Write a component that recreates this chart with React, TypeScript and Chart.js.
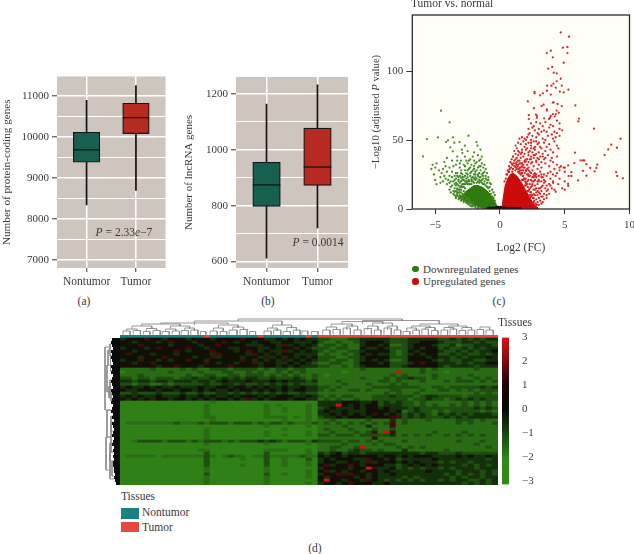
import React, { useEffect, useRef } from "react";
import { Chart, registerables } from "chart.js";

Chart.register(...registerables);

const FONT = '"Liberation Serif", serif';
const INK = "#3a3a3a";

// Panels (a) and (b)
const boxCategories = ["Nontumor", "Tumor"];
const proteinTicks = [7000, 7500, 8000, 8500, 9000, 9500, 10000, 10500, 11000];
const proteinWhiskers = [[8350, 10900], [8700, 11260]];
const proteinBoxes = [[9390, 10120], [10090, 10830]];
const proteinMedians = [9690, 10480];
const lncTicks = [600, 700, 800, 900, 1000, 1100, 1200];
const lncWhiskers = [[612, 1163], [720, 1232]];
const lncBoxes = [[797, 955], [872, 1077]];
const lncMedians = [874, 938];

// Panel (c): Log2(FC), -Log10(adj P)
const upSparse = [
  [4.69,128],[5.33,124.9],[4.85,116.9],[5.21,117.4],[5.21,113],[3.92,114.7],[3.62,113],[4.08,109.9],[4.92,106],[4.03,102.9],[3.72,101.7],[4.15,98.8],[4.38,98.3],[4.69,94.4],[4.38,92.5],[4.13,90.8],[3.64,89.4],[3.97,89.4],[4.77,89.4],[4.31,87.9],[5.28,86.5],[3.62,85.7],[4.62,85],[4.92,84.5],[2.67,84.8],[2.67,83.8],[3.31,83.8],[3.1,82.4],[3.92,82.9],[4.08,77.1],[4.15,77.3],[4.44,76.1],[4.77,74.6],[5.82,75.1],[3.36,75.6],[3.21,74.6],[2.15,78],[2.62,73],[3.62,72.2],[3.62,71.3],[4.38,71.3],[4.54,69.8],[4.08,68.8],[4.31,68.8],[2.23,68.1],[2.77,68.4],[2.85,67.6],[2.85,66.2],[3.92,67.4],[4.23,67.2],[3.85,66],[3.79,65.2],[3.41,65.7],[2.23,65.2],[6.1,65.5],[6.05,63.5],
  [7.26,58.2],[9.31,50.9],[8.59,46.6],[9.03,44.4],[8.36,43.2],[8.08,39.1],[5.79,40.8],[6.23,35.2],[6.41,35.2],[6.51,35.2],[6.67,32.5],[7.51,32.1],[5.74,33.3],[6.97,29.7],[7.44,29.7],[7.31,27.2],[6.41,27.7],[5.51,26.7],[5.51,23.9],[6.67,24.1],[6.03,20.7],[8.97,26.7],[9.05,23.9],[9.49,22.2],[5.26,31.6],[5,14],[5.26,18.3],[5.26,16.8],
  [2.8,63],[3.1,62],[3.5,63],[4.4,64],[4.6,62],[3.9,61],[2.4,62],[2.6,60],[3.3,60],[4.1,60],[2.2,58],[2.5,59],[2.7,57],[3,58],[3.4,57],[3.8,59],[4.2,56],[4.6,58],[4.8,57],[2.3,55],[2.9,55],[3.6,56],[3.2,56],[4.4,55],
  [1.7,52],[1.9,51],[2.2,54],[2.5,53],[2.8,52],[3,54],[3.3,51],[3.7,53],[4,54],[4.3,52],[4.6,53],[4.1,51],[2.4,50],[2,50],[1.5,51],[3.5,50],[1.4,48],[1.6,47],[1.8,49],[2,47],[2.2,48],[2.4,46],[2.6,49],[2.9,47],[3.1,45],[3.4,48],[3.8,47],[4.2,49],[4.4,46],[1.2,46],[1.9,45],[2.7,45],[3.6,45],
  [1.1,42],[1.3,44],[1.5,41],[1.7,43],[1.9,40],[2.1,44],[2.3,42],[2.5,41],[2.7,43],[3,41],[3.2,44],[3.5,42],[3.9,43],[4.1,41],[4.5,44],[2.4,44],[1.6,40],[2.8,40],[3.3,40],[1,38],[1.2,36],[1.4,39],[1.6,37],[1.8,38],[2,36],[2.2,39],[2.4,38],[2.6,37],[2.8,35],[3.1,38],[3.4,36],[3.7,39],[4,37],[4.4,38],[1.5,35],[1.9,35],[2.3,36],[2.7,39],[3.9,35],
  [0.9,33],[1.1,31],[1.3,34],[1.4,32],[1.6,33],[1.7,31],[1.9,34],[2.1,32],[2.2,30],[2.4,33],[2.6,31],[2.8,34],[3,32],[3.2,30],[3.5,33],[3.8,31],[4.1,34],[4.4,32],[4.7,31],[5,30],[4.6,30],[1.5,30],[1.8,30],[2,34.5],[1.3,29],[1.5,27],[1.7,28],[1.9,26],[2.1,29],[2.3,27],[2.5,28],[2.7,26],[2.9,29],[3.1,27],[3.4,25],[3.7,26],[3.9,27],[4.2,29],[4.4,26],[4.6,28],[4.9,30],[5,27],[4.1,25],[3.2,25],[2.2,25],[2,27.5],
  [1.8,24],[2,22],[2.2,24],[2.4,21],[2.6,23],[2.8,25],[3,21],[3.2,23],[3.4,21],[3.6,24],[3.9,22],[4.3,24],[4.6,22],[5,20],[5.3,24],[2.5,20],[3,20],[4.1,20],[2.1,20],[2.1,18],[2.3,15],[2.5,17],[2.7,14],[2.9,18],[3,12],[3.2,16],[3.4,19],[3.6,13],[3.9,17],[4.2,14],[4.5,18],[4.8,15],[2.6,11],[2.9,10],[3.3,9],[3.6,8],[2.8,7],[2.4,9],[3.1,15],[3.8,11],[4.3,12.5],
];
const upDense = [
  [0.5,25],[0.6,28],[0.7,31],[0.8,34],[0.9,36],[1,38],[1.1,35],[1.2,33],[1.3,37],[1.4,35],[1.5,33],[1.6,30],[1.7,33],[1.8,28],[1.9,30],[2,28],[2.1,25],[2.2,28],[2.3,24],[2.4,26],[2.5,23],[2.6,25],[2.7,21],[2.8,23],[2.9,20],[1.9,22],[2,19],[2.2,21],[2.3,18],[2.4,16],[2.5,18],[2.6,14],[2.7,17],[2.8,15],[2.9,13],[3,15],[3.1,11],[3.2,13],[3.3,17],[3.4,11],[3.5,15],[2.6,8],[2.7,10],[2.8,12],[2.9,5],[3,8],[3.1,6],[3.2,9],[3.4,7],[3.6,10],[3.7,14],[3.8,18],[4,15],[4.1,19],[2.5,10],[2.4,12],[2.3,10],[2.6,20],[2.7,24],[3,24],[3.2,20],[3.3,23],[3.5,20],[3.6,17],[1.7,26],[1.8,32],[2.1,36],[2.2,34],[2.4,36],[2.5,34],[2.6,39],[2.9,37],[3,36],[3.2,34],[3.3,38],[3.5,37],[1.2,40],[1.4,42],[1.7,41],[2,43],[2.2,41],[2.6,44],[3,48],[2.8,49],[2.4,48],[2.1,52],
  [0.35,20],[0.45,22],[0.55,25],[0.65,27],[0.75,29],[0.85,30],[0.95,32],[1.05,33],[1.15,31],[1.25,30],[1.35,31],[1.45,29],[1.55,28],[1.65,26],[1.75,24],[1.85,22],[1.95,20],[2.05,18],[2.15,16],[2.25,14],[2.35,12],[2.45,10],[2.55,8],[2.65,6],[2.75,4],[2.85,3],[1,29],[1.2,28],[1.4,27],[1.6,25],[1.8,21],[2,17],[2.2,13],[2.4,9],[2.6,5],[1.7,21],[1.9,17],[2.1,13],[2.3,8],[2.5,4],[2.7,2],[3,3],[3.2,4],[3.3,5],[1.5,26],[1.3,32],[0.95,27],[0.7,27],
];
const downSparse = [
  [-4.56,71.2],[-3.89,62.8],[-5.64,50.7],[-4.79,51.9],[-5.94,38.1],[-3.63,51.9],[-2.43,53.1],[-4.17,48.5],[-4.02,49.7],[-3.53,48],[-3.12,48.5],[-2.71,45.9],[-1.82,48.5],[-1.74,45.9],[-3.84,44.7],[-1.51,43],[-2.94,43],[-3.64,41.8],
  [-2.9,40.5],[-2.5,42],[-2,41],[-2.7,38],[-3.3,38],[-2.1,38],[-1.7,39],[-1.4,38],[-1.5,36],[-4.1,37],[-4.3,34],[-3.7,35],[-3.3,35],[-3,35],[-2.6,35],[-2.3,36],[-2,35],[-1.8,34],[-1.4,33],[-1.2,32],
  [-5.2,32],[-5,30],[-5.3,29],[-4.9,33],[-4.7,28],[-4.4,29],[-4.2,31],[-3.9,30],[-3.6,31],[-3.4,32],[-3.1,30],[-2.8,32],[-2.5,33],[-2.2,32],[-2,31],[-1.6,31],[-1.3,30],[-1.1,29],[-4.5,26],[-4.1,27],[-3.7,27],[-3.3,26],[-3,28],[-2.7,28],[-2.4,29],[-2.1,28],[-1.8,28],[-1.5,28],[-1.2,27],[-1,26],[-5.1,25],[-4.6,23],[-4.2,22],[-3.9,24],[-3.5,24],[-3.2,23],[-2.9,25],[-2.6,26],[-2.3,26],[-2,25],[-1.7,25],[-1.4,25],[-1.1,24],[-0.9,23],
  [-5,21],[-4.6,19],[-4.9,18],[-4.1,18],[-3.8,20],[-3.5,21],[-3.2,20],[-2.9,21],[-3.8,16],[-3.4,17],[-3.1,16],[-3.6,13],[-3.3,14],[-3,12],[-3.1,19],[-2.8,10],[-2.6,7],[-2.4,5],[-2.2,4],[-3.3,11],[-2.9,8],[-2.8,23],[-2.5,23],[-2.2,22.5],[-1.9,23],[-1.6,23],[-1.3,22],[-1,21],[-0.8,19],[-3.4,22],[-3,22.5],[-2.7,20],[-3.3,15],[-3,17],[-3.5,18],
];
const downDense = [
  [-3.6,20],[-3.4,19],[-3.3,24],[-3.2,21],[-3.1,24],[-3,20],[-2.9,23],[-2.8,21],[-2.7,24],[-2.6,22],[-2.5,25],[-2.4,21],[-2.3,24],[-2.2,21],[-2.1,23],[-2,22],[-1.9,25],[-1.8,22],[-1.7,24],[-1.6,21],[-1.5,23],[-1.4,21],[-1.3,24],[-1.2,20],[-1.1,22],[-1,19],[-0.9,21],[-0.8,16],[-0.7,18],[-0.6,14],[-0.5,12],[-0.4,10],
  [-3.7,17],[-3.5,15],[-3.4,13],[-3.3,18],[-3.2,17],[-3.2,14],[-3.1,12],[-3.1,10],[-3,14],[-3,9],[-2.9,16],[-2.9,11],[-2.8,18],[-2.8,13],[-2.7,15],[-2.7,9],[-2.6,19],[-2.6,12],[-2.5,20],[-2.5,8],[-2.4,18],[-2.4,7],[-2.3,6],[-2.2,20],[-2.1,4],[-3.5,10],[-3.4,8],[-3.2,7],[-3,6],[-2.8,5],[-2.5,4],[-2.2,2],[-1.9,2],[-1.7,1],[-1.5,1],[-3.9,14],[-3.8,12],[-4,21],[-3.9,19],[-4.3,24],[-4.4,20],[-3.7,23],[-3.4,26],[-3,26],[-2.5,28],[-2.2,27],[-1.9,27],[-1.6,26],[-1.3,26],[-2.7,31],[-2.3,30],[-2,29],[-1.7,30],[-1.5,31],[-3.1,33],[-2.4,35],[-1.9,33],[-1.6,35],
  [-3.3,10],[-3.2,12],[-3.1,14],[-3,16],[-2.9,18],[-2.8,16],[-2.7,18],[-2.6,20],[-2.5,18],[-2.4,20],[-2.3,18],[-2.2,18],[-2.1,20],[-2,19],[-1.9,21],[-1.8,19],[-1.7,20],[-1.6,19],[-1.5,20],[-1.4,19],[-1.3,18],[-1.2,18],[-1.1,17],[-1,16],[-0.9,15],[-0.8,13],[-0.7,11],[-0.6,9],[-0.5,8],[-0.4,6],[-3.4,9],[-3.2,9],[-3,7.5],[-2.8,6],[-2.6,4.5],[-2.4,3.5],[-2.3,2.5],[-2.1,2],[-1.9,1],[-1.7,0.6],[-2,3],[-2.7,6],[-2.9,7],[-3.1,8],[-1.3,0.5],[-3.6,11],[-3.5,12.5],[-3.3,12],
];
const upCoreX = [0.15,0.25,0.4,0.6,0.8,1,1.3,1.6,1.9,2.2,2.5,2.8,3];
const upCoreTop = [0,8,17,22,25,26,24,20,15,10,5,2,0];
const downCoreX = [-3.2,-2.9,-2.6,-2.3,-2,-1.7,-1.4,-1.1,-0.8,-0.5,-0.3,-0.1];
const downCoreTop = [8,10,13,15,17,17,16,14,11,7,3.5,0];
const downCoreBase = [8,7,5.5,4,3,2,0.8,0,0,0,0,0];
const notSignificant = [
  [-0.95,0.4],[-0.8,0.8],[-0.7,0.3],[-0.6,0.6],[-0.5,0.9],[-0.42,0.3],[-0.35,0.7],[-0.28,1],[-0.2,0.4],[-0.12,0.8],[-0.05,0.5],[0.02,1],[0.08,0.3],[0.14,0.8],[0.2,0.4],[0.28,0.9],[0.35,0.4],[0.42,0.7],[0.5,0.3],[0.58,0.6],[0.68,0.4],[0.78,0.7],[0.9,0.3],[1.05,0.5],[1.2,0.3],[1.35,0.5],[1.55,0.3],[-0.15,1.4],[0.05,1.5],
];

// Panel (d): levels 0..6 stand for values -3..3; 33 nontumor + 30 tumor columns
const heatRows = [
  "34445443444 34443444454 44334343433 2211122333 3322233333 2232323233",
  "44344434544 43444454344 34433443334 2112112344 4322233444 3222332322",
  "44454444344 44344544443 33443534343 1221211344 3411234443 2231223332",
  "34443454444 54434443344 43343443432 2212211433 4322234344 2322323233",
  "44344444454 34445444345 43433534343 2121122344 4421243444 3223232334",
  "45444344434 44443544443 54343443333 1211212434 3321234344 2232322323",
  "44434445444 43445344434 43534343434 2221122344 4422244434 3323233343",
  "34454434344 54434444454 34343534343 2212212343 4311244443 2322332233",
  "44344544444 44454344344 53443343432 1122112444 3422234544 3332323344",
  "44444434454 44344445444 43443434333 2211212344 4422344444 3233332333",
  "11111211112 12112221222 21212212211 1111111211 1111111212 1111112111",
  "01111111211 11211122112 12112121211 1111011111 1116111211 1011111111",
  "11121111111 21122112212 22121212112 1011111111 1121211112 1111121111",
  "22122122212 23223232323 32232223212 1111111211 1212232212 1112112121",
  "33233233233 32332343334 33343433323 1112111111 2212111211 1212221212",
  "22122112122 22232233232 23232323222 1111211121 1121211111 1111111111",
  "34334343343 33433443443 43433433433 2212111112 2222222112 2122222323",
  "43344434434 43434334344 34343434433 2121122121 1122111211 2212121222",
  "22322232223 22322332323 23232322322 1111111111 1212112111 1111112121",
  "34343343334 33434334344 43434443343 2121221112 2232221233 2222122222",
  "43434344344 34343443435 34344434433 1212112112 2222212232 2123232322",
  "00000000000 00001000000 00000000000 3333444334 2323221211 1111212121",
  "00000000000 00010000000 00101000010 3336434344 2333221212 1121212121",
  "00000000000 00010000000 00100100010 2343334344 3433323222 2222223232",
  "00000000000 00010000000 00100100010 3433433344 4434123221 2122222121",
  "00000000000 00010000000 00100000010 3343434345 4343232321 3232323332",
  "00000000000 00011000000 00111101010 2334344434 4455232322 2323233333",
  "00000000000 00001000000 00000100010 1121111121 1131211121 1112221211",
  "01111111121 11212221222 12122121112 1212121212 1251211111 1112121112",
  "00000000000 00000000000 00100000010 1111211131 1151111111 1111111111",
  "00000000000 00010000000 00000100000 1211121112 1121111111 1111111111",
  "00000000000 00010000000 00100000010 1121112125 1651111112 1111211111",
  "00000000000 00010000000 00100100010 2212221222 2231212121 1212121211",
  "00000000000 00010000000 00000000000 1111111115 1111111111 1111111111",
  "00122221222 12122212122 23232122213 2222122121 2111211111 1112111211",
  "00000000000 00010000000 00100000010 1111211112 1221111111 1111112111",
  "00000000000 00000000000 00000000000 1122112611 1112121211 1111111121",
  "00000000000 00110000000 00111100010 1121123221 2111311111 1211111111",
  "00000000000 00020000000 00200000010 3234233233 3333333233 2223222222",
  "01111101111 11121012110 11211111211 4344344444 3443434443 3334343343",
  "00000000000 00020000010 00200100020 3434443354 4342333334 3333333323",
  "00000000000 00020000000 00200100010 3443344353 4443434333 2323323333",
  "00000000000 00020000010 00200100010 4534454344 4332343434 3333232323",
  "00000000000 00010000000 00100000000 3444434465 3342323233 2323332333",
  "00000000000 00010000000 00100000010 4534344344 3433333343 3332333232",
  "00000000000 00020000000 00200100010 3445554434 3343333333 3232323232",
  "00000000000 00010000000 00100000010 4344443434 3333232333 3323233233",
  "00000000000 00010000000 00100000000 4644344354 3232323233 2323322323",
  "00000000000 00010000000 00100000010 3443454443 3433333333 3333232323",
];
const heatPalette = ["#2f8016", "#2a6c13", "#1f4f10", "#14300b", "#120f07", "#3e0f0a", "#d01212"];
const sampleGroups = "NNNNNNNNNNNNNNTNNNNNNNNTNNNNNNNTN" + "T".repeat(30);
// Dendrogram merges: [from, to, leg start, joint height]
const topMerges = [
  [0.5,1.7,0.3,4],[2.2,3.4,0.3,4.5],[3.9,5,0.3,3.5],[5.5,6.7,0.3,4.5],[7,8.2,0.3,3.5],[8.7,9.9,0.3,4],[10.2,11.4,0.3,4.5],[11.8,13,0.3,5],[13.4,14.3,0.3,3.5],
  [15,16.2,0.3,4],[16.7,17.8,0.3,3.5],[18.2,19.5,0.3,5],[20,21.2,0.3,5.5],[21.6,22.6,0.3,3.5],[24,25.2,0.3,4],[25.6,26.8,0.3,5],[27.2,28.4,0.3,3.5],[28.9,30,0.3,5],[30.3,31.3,0.3,4],[31.9,33,0.3,3.5],
  [33.8,35,0.3,5],[35.5,36.7,0.3,5.5],[37.2,38.4,0.3,7],[39,40.2,0.3,5],[40.7,41.9,0.3,6.5],[42.4,43.5,0.3,5],[44,45.2,0.3,7],[45.7,46.8,0.3,5],[47.2,48.3,0.3,3.5],[48.8,49.9,0.3,5],[50.3,51.4,0.3,6],[51.9,53,0.3,4.5],[53.5,54.6,0.3,5],[55,56.1,0.3,6],[56.5,57.6,0.3,4.5],[58,59.1,0.3,5],[59.5,60.6,0.3,5.5],[61,62.2,0.3,5],
  [1.1,2.8,4,6],[4.4,6.1,4,6.5],[7.6,9.3,4,6],[10.8,12.4,4.5,7],[15.6,17.2,4,7],[18.8,20.6,5,8],[24.6,26.2,4,7],[27.8,29.4,4,7.5],
  [34.4,36.1,5,8],[37.8,39.6,5,9],[41.3,43,5,9],[44.6,46.2,5,9],[47.8,49.4,4,7],[50.9,52.5,5,7.5],[54,55.6,5,7.5],[57,58.6,5,7.5],[60,61.6,5,8],
  [2,5.3,6,9],[8.4,11.6,6.5,9],[16.4,19.7,7,10],[25.4,28.6,7,10],[35.2,38.7,8,11],[42.1,45.4,9,12],[48.6,51.7,7,9],[54.8,57.8,7.5,9],
  [3.6,10,9,11],[37,43.8,11,13.5],[50,56.3,9,11],[40.4,53.2,11,14.5],[6.8,18,11,12],[12.4,27,10,14],[19.7,47,14,16],
];
const leftMerges = [
  [3,24,9,15],[2,6,7,10],[6,11,7,9.5],[4,9,10,12],[14,19,7,10],[18,21,7,9],[16,20,9,11],[9,18,11,13],
  [28,38,7,9],[38,47,6,10],[33,44,10,14],[24,33,9,13],[26,31,7,9],[41,46,6,8],[35,41,7,10],
];
const leafDepths = [
  8,9,8,7,9,8,9,8,7,9,8,9,7,8,9,8,7,9,8,7,8,9,7,8,9,7,8,6,8,7,6,7,8,6,7,8,6,7,6,7,6,7,7,6,6,5,6,5,4,
];
const colorbarRange = [-3.12, 3];

function label(v) {
  return v < 0 ? "\u2212" + Math.abs(v) : String(v);
}

const plotFrame = {
  id: "plotFrame",
  beforeDraw(chart, _a, o) {
    const { ctx, chartArea: a } = chart;
    ctx.save();
    ctx.fillStyle = o.fill;
    ctx.fillRect(a.left, a.top, a.right - a.left, a.bottom - a.top);
    ctx.restore();
  },
  afterDraw(chart, _a, o) {
    if (!o.stroke) return;
    const { ctx, chartArea: a } = chart;
    ctx.save();
    ctx.strokeStyle = o.stroke;
    ctx.lineWidth = 1.3;
    ctx.strokeRect(a.left, a.top, a.right - a.left, a.bottom - a.top);
    ctx.restore();
  },
};

function boxConfig(title, tickValues, whiskers, boxes, medians, yMin, yMax, major, axisW, boxW, titleSize) {
  const isMajor = (v) => Math.round(v) % major === 0;
  const xy = (arr) => arr.map((y, i) => ({ x: i + 1, y }));
  return {
    type: "bar",
    data: {
      datasets: [
        { type: "scatter", data: xy(medians), pointStyle: "line", pointRadius: boxW / 2, pointBorderWidth: 1.2, pointBorderColor: "#0c0c0c", pointBackgroundColor: "#0c0c0c", order: 0 },
        { data: xy(boxes), backgroundColor: ["#17604f", "#b62a22"], borderColor: "#141414", borderWidth: 1.2, borderSkipped: false, barThickness: boxW, grouped: false, order: 1 },
        { data: xy(whiskers), backgroundColor: "#151515", barThickness: 1.1, grouped: false, order: 2 },
      ],
    },
    options: {
      animation: false, responsive: false, maintainAspectRatio: false,
      layout: { padding: { top: 10, right: 8, left: 0, bottom: 0 } },
      plugins: { legend: { display: false }, tooltip: { enabled: false }, plotFrame: { fill: "#cfc5bf" } },
      scales: {
        x: {
          type: "linear", min: 0.4, max: 2.6, offset: false,
          afterFit: (s) => { s.height = 27; },
          grid: { offset: false, color: "#ffffff", lineWidth: 1.5, tickColor: "#333", tickLength: 4, tickWidth: 1 },
          border: { display: false },
          ticks: { stepSize: 1, includeBounds: false, autoSkip: false, maxRotation: 0, padding: 3, color: INK, font: { family: FONT, size: 11.5 }, callback: (v) => boxCategories[v - 1] ?? "" },
        },
        y: {
          type: "linear", min: yMin, max: yMax,
          afterBuildTicks: (s) => { s.ticks = tickValues.map((value) => ({ value })); },
          afterFit: (s) => { s.width = axisW; },
          title: { display: true, text: title, color: INK, font: { family: FONT, size: titleSize }, padding: 0 },
          grid: {
            color: "#ffffff",
            lineWidth: (c) => (isMajor(c.tick.value) ? 1.6 : 1),
            tickColor: (c) => (isMajor(c.tick.value) ? "#333" : "transparent"),
            tickLength: 5, tickWidth: 1,
          },
          border: { display: false },
          ticks: { autoSkip: false, padding: 3, color: INK, font: { family: FONT, size: 11 }, callback: (v) => (isMajor(v) ? String(v) : "") },
        },
      },
    },
    plugins: [plotFrame],
  };
}

const toXY = (pairs) => pairs.map(([x, y]) => ({ x, y }));
const zipXY = (xs, ys) => xs.map((x, i) => ({ x, y: ys[i] }));

function volcanoConfig() {
  const pt = { pointStyle: "circle", pointRadius: 1.15, pointBorderWidth: 0, showLine: false };
  return {
    type: "scatter",
    data: {
      datasets: [
        { type: "line", data: zipXY(upCoreX, upCoreTop), borderColor: "#cb0b0b", borderWidth: 1, backgroundColor: "#cb0b0b", pointRadius: 0, tension: 0, fill: { value: 0 }, order: 5 },
        { type: "line", data: zipXY(downCoreX, downCoreTop), borderColor: "#2f7a0c", borderWidth: 1, backgroundColor: "#2f7a0c", pointRadius: 0, tension: 0, fill: "+1", order: 5 },
        { type: "line", data: zipXY(downCoreX, downCoreBase), borderColor: "#2f7a0c", borderWidth: 1, pointRadius: 0, tension: 0, fill: false, order: 5 },
        { data: toXY(upDense), backgroundColor: "#d42024", ...pt, order: 4 },
        { data: toXY(downDense), backgroundColor: "#3a8420", ...pt, order: 4 },
        { data: toXY(upSparse), backgroundColor: "#dc2a2e", ...pt, order: 3 },
        { data: toXY(downSparse), backgroundColor: "#4a9030", ...pt, order: 3 },
        { data: toXY(notSignificant), backgroundColor: "#000", ...pt, pointRadius: 1.3, order: 1 },
      ],
    },
    options: {
      animation: false, responsive: false, maintainAspectRatio: false,
      layout: { padding: { top: 10, right: 10, left: 0, bottom: 0 } },
      plugins: { legend: { display: false }, tooltip: { enabled: false }, plotFrame: { fill: "#fffef7", stroke: "#2a2a2a" } },
      scales: {
        x: {
          type: "linear", min: -6.77, max: 10,
          afterFit: (s) => { s.height = 46; },
          title: { display: true, text: "Log2 (FC)", color: INK, font: { family: FONT, size: 11.5 }, padding: 0 },
          grid: { drawOnChartArea: false, tickColor: "#333", tickLength: 5 },
          border: { display: false },
          ticks: { stepSize: 5, includeBounds: false, autoSkip: false, maxRotation: 0, padding: 5, color: INK, font: { family: FONT, size: 11 }, callback: label },
        },
        y: {
          type: "linear", min: 0, max: 140.6,
          afterFit: (s) => { s.width = 42.3; },
          grid: { drawOnChartArea: false, tickColor: "#333", tickLength: 6 },
          border: { display: false },
          ticks: { stepSize: 50, includeBounds: false, autoSkip: false, padding: 3, color: INK, font: { family: FONT, size: 11 }, callback: label },
        },
      },
    },
    plugins: [plotFrame],
  };
}

function heatConfig() {
  const matrix = heatRows.map((r) => r.replace(/ /g, "").split("").map((c) => Number(c) - 3));
  const cols = matrix[0].map((_, i) => i);
  const bar = { stack: "cells", borderWidth: 0, barPercentage: 1, categoryPercentage: 1 };
  const datasets = [...matrix].reverse().map((row) => ({
    ...bar,
    data: row.map(() => 1),
    backgroundColor: row.map((v) => heatPalette[v + 3]),
  }));
  datasets.push({
    ...bar,
    data: cols.map(() => 1),
    backgroundColor: cols.map((i) => (sampleGroups[i] === "T" ? "#e8463f" : "#1c8080")),
  });
  return {
    type: "bar",
    data: { labels: cols.map(String), datasets },
    options: {
      animation: false, responsive: false, maintainAspectRatio: false,
      layout: { padding: 0 },
      plugins: { legend: { display: false }, tooltip: { enabled: false } },
      scales: {
        x: { stacked: true, display: false },
        y: { stacked: true, display: false, min: 0, max: matrix.length + 1 },
      },
    },
  };
}

function topDendroConfig() {
  const pts = [];
  topMerges.forEach(([a, b, low, top]) => {
    pts.push({ x: a, y: low }, { x: a, y: top }, { x: b, y: top }, { x: b, y: low }, { x: NaN, y: NaN });
  });
  return {
    type: "scatter",
    data: { datasets: [{ data: pts, showLine: true, spanGaps: false, borderColor: "#8b8b8b", borderWidth: 0.9, pointRadius: 0 }] },
    options: {
      animation: false, responsive: false, maintainAspectRatio: false, layout: { padding: 0 },
      plugins: { legend: { display: false }, tooltip: { enabled: false } },
      scales: { x: { type: "linear", display: false, min: 0, max: 63 }, y: { type: "linear", display: false, min: 0, max: 17 } },
    },
  };
}

function leftDendroConfig() {
  const leaves = [];
  leafDepths.forEach((d, r) => {
    leaves.push({ x: 0, y: r + 0.5 }, { x: d, y: r + 0.5 }, { x: NaN, y: NaN });
  });
  const merges = [];
  leftMerges.forEach(([a, b, low, top]) => {
    merges.push({ x: low, y: a }, { x: top, y: a }, { x: top, y: b }, { x: low, y: b }, { x: NaN, y: NaN });
  });
  return {
    type: "scatter",
    data: {
      datasets: [
        { data: leaves, showLine: true, spanGaps: false, borderColor: "#0a0a0a", borderWidth: 3.2, pointRadius: 0, order: 1 },
        { data: merges, showLine: true, spanGaps: false, borderColor: "#8b8b8b", borderWidth: 0.9, pointRadius: 0, order: 2 },
      ],
    },
    options: {
      animation: false, responsive: false, maintainAspectRatio: false, layout: { padding: 0 },
      plugins: { legend: { display: false }, tooltip: { enabled: false } },
      scales: {
        x: { type: "linear", display: false, min: 0, max: 16, reverse: true },
        y: { type: "linear", display: false, min: 0, max: 49, reverse: true },
      },
    },
  };
}

function colorbarConfig() {
  return {
    type: "bar",
    data: {
      labels: ["scale"],
      datasets: [{
        data: [colorbarRange],
        barPercentage: 1, categoryPercentage: 1, borderWidth: 0,
        backgroundColor: (c) => {
          const a = c.chart.chartArea;
          if (!a) return "#000";
          const g = c.chart.ctx.createLinearGradient(0, a.bottom, 0, a.top);
          g.addColorStop(0, "#2f8a18");
          g.addColorStop(0.17, "#2f8a18");
          g.addColorStop(0.36, "#17400d");
          g.addColorStop(0.52, "#070705");
          g.addColorStop(0.68, "#1c0606");
          g.addColorStop(0.86, "#8a0d0d");
          g.addColorStop(1, "#dc1010");
          return g;
        },
      }],
    },
    options: {
      animation: false, responsive: false, maintainAspectRatio: false,
      layout: { padding: { top: 10, bottom: 11, left: 0, right: 0 } },
      plugins: { legend: { display: false }, tooltip: { enabled: false } },
      scales: {
        x: { display: false },
        y: {
          position: "right", min: colorbarRange[0], max: colorbarRange[1],
          afterFit: (s) => { s.width = 33; },
          grid: { display: false }, border: { display: false },
          ticks: { stepSize: 1, includeBounds: false, autoSkip: false, padding: 5, color: INK, font: { family: FONT, size: 11 }, callback: label },
        },
      },
    },
  };
}

const panels = [
  { box: [0, 62, 180, 233], make: () => boxConfig("Number of protein-coding genes", proteinTicks, proteinWhiskers, proteinBoxes, proteinMedians, 6809, 11484, 1000, 57, 26.5, 11.2) },
  { box: [183, 62, 180, 233], make: () => boxConfig("Number of lncRNA genes", lncTicks, lncWhiskers, lncBoxes, lncMedians, 577, 1260, 200, 53, 27.5, 11) },
  { box: [370, 5, 270, 250], make: volcanoConfig },
  { box: [120, 335, 378, 150], make: heatConfig },
  { box: [120, 318, 378, 17], make: topDendroConfig },
  { box: [104, 338, 16, 147], make: leftDendroConfig },
  { box: [502, 326, 40, 170], make: colorbarConfig },
];

type TextProps = { x: number; y: number; children: React.ReactNode; align?: string; rotate?: boolean; size?: number };

function Text({ x, y, children, align = "center", rotate = false, size = 11.5 }: TextProps) {
  const tx = align === "center" ? "-50%" : "0";
  return (
    <div style={{ position: "absolute", left: x, top: y, whiteSpace: "nowrap", fontSize: size, lineHeight: 1, color: INK, transform: `translate(${tx}, -50%)${rotate ? " rotate(-90deg)" : ""}` }}>
      {children}
    </div>
  );
}

function Swatch({ x, y, w, h, color, round = false }) {
  return <div style={{ position: "absolute", left: x, top: y, width: w, height: h, background: color, borderRadius: round ? "50%" : 0 }} />;
}

export default function App() {
  const refs = useRef([]);
  useEffect(() => {
    const charts = panels.map((p, i) => new Chart(refs.current[i], p.make()));
    return () => charts.forEach((c) => c.destroy());
  }, []);
  return (
    <div style={{ position: "absolute", left: 0, top: 0, width: 634, height: 554, overflow: "hidden", background: "#fff", fontFamily: FONT }}>
      {panels.map((p, i) => (
        <canvas key={i} ref={(el) => { refs.current[i] = el; }} width={p.box[2]} height={p.box[3]}
          style={{ position: "absolute", left: p.box[0], top: p.box[1], width: p.box[2], height: p.box[3] }} />
      ))}
      <Text x={124} y={233}><i>P</i> = 2.33<i>e</i>−7</Text>
      <Text x={318} y={243}><i>P</i> = 0.0014</Text>
      <Text x={84} y={302}>(a)</Text>
      <Text x={268} y={302}>(b)</Text>
      <Text x={411} y={4} align="left">Tumor vs. normal</Text>
      <Text x={375} y={112} rotate size={10.7}>−Log10 (adjusted <i>P</i> value)</Text>
      <Swatch x={412} y={265.5} w={6.5} h={6.5} color="#2f7a0c" round />
      <Text x={423} y={268.5} align="left" size={11}>Downregulated genes</Text>
      <Swatch x={412} y={278} w={6.5} h={6.5} color="#cb0b0b" round />
      <Text x={423} y={281} align="left" size={11}>Upregulated genes</Text>
      <Text x={499} y={302}>(c)</Text>
      <Text x={498} y={323} align="left">Tissues</Text>
      <Text x={121} y={497} align="left">Tissues</Text>
      <Swatch x={121} y={508} w={18} h={10.5} color="#1c8080" />
      <Swatch x={121} y={521.5} w={18} h={10.5} color="#e8463f" />
      <Text x={142} y={513} align="left">Nontumor</Text>
      <Text x={142} y={528} align="left">Tumor</Text>
      <Text x={315} y={549}>(d)</Text>
    </div>
  );
}
